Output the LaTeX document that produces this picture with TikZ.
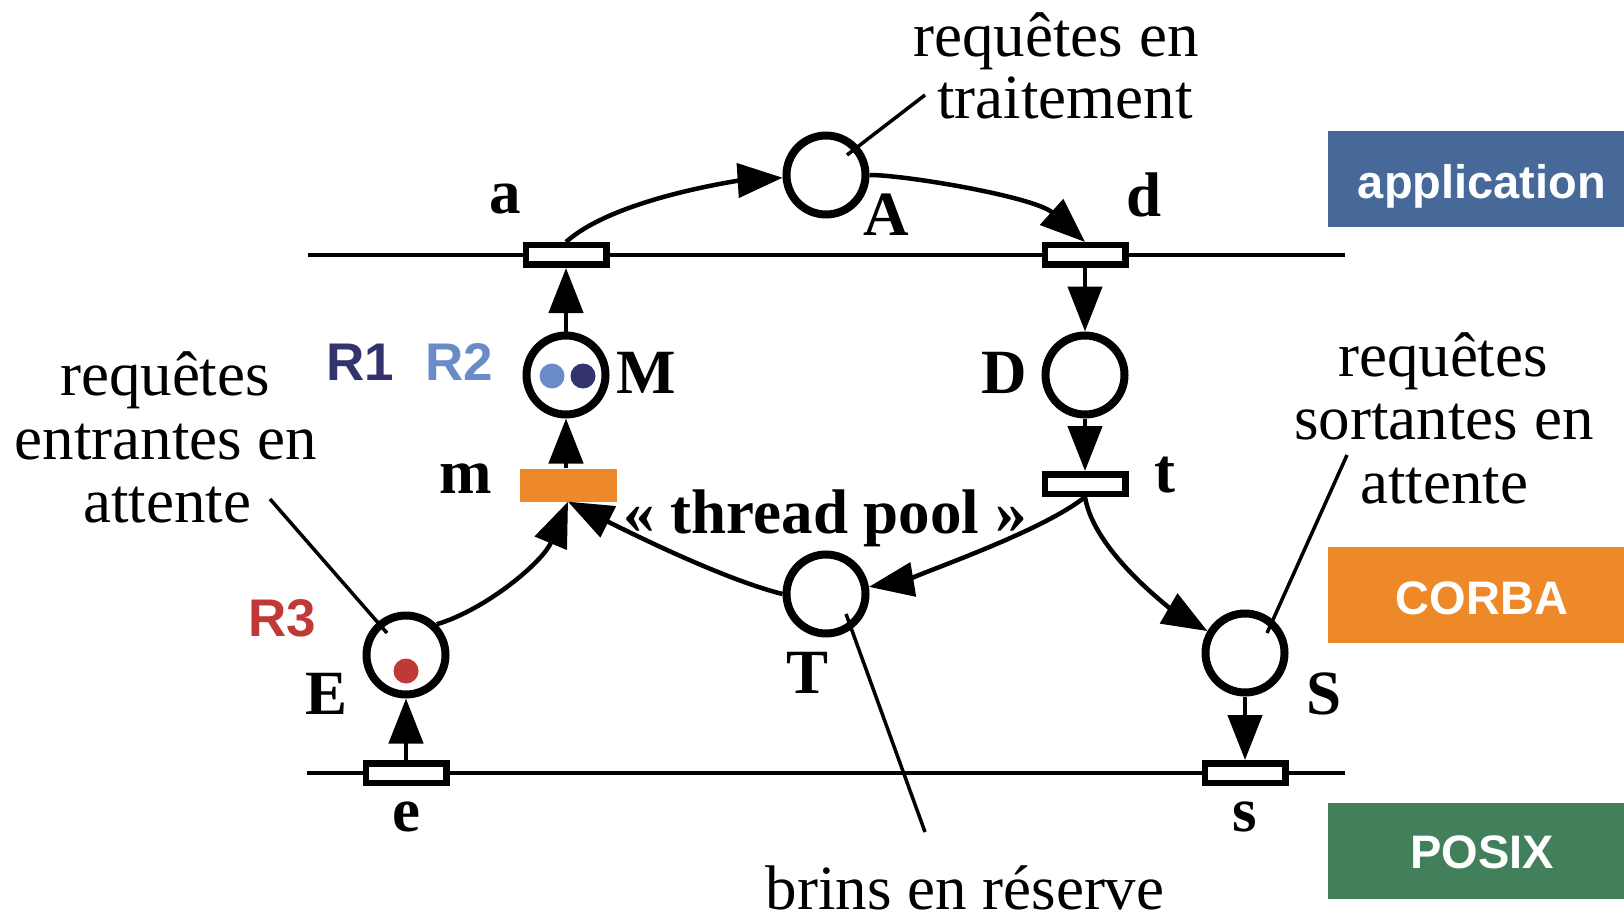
\documentclass[tikz,border=0pt]{standalone}
\usepackage{fontspec}
\setmainfont{Liberation Serif}
\newfontfamily\lsans{Liberation Sans}
\usetikzlibrary{arrows.meta}
\definecolor{appblue}{RGB}{71,105,154}
\definecolor{corbaor}{RGB}{237,137,40}
\definecolor{posixgr}{RGB}{66,128,92}
\definecolor{rone}{RGB}{51,51,110}
\definecolor{rtwo}{RGB}{105,140,200}
\definecolor{rthree}{RGB}{192,57,55}
\begin{document}
\begin{tikzpicture}[x=1pt,y=-1pt,
  place/.style={circle,draw,line width=8pt,minimum size=79pt,inner sep=0pt},
  trans/.style={rectangle,draw,fill=white,line width=6.5pt,minimum width=80.5pt,minimum height=19.5pt,inner sep=0pt},
  arc/.style={line width=4.5pt,-{Triangle[length=45pt,width=34pt]}},
  leader/.style={line width=3.5pt},
  axis/.style={line width=3.5pt},
  lbl/.style={font=\fontsize{63}{63}\selectfont\bfseries,inner sep=0pt},
  txt/.style={font=\fontsize{63}{63}\selectfont,inner sep=0pt,anchor=base},
  rlab/.style={font=\lsans\fontsize{53}{53}\selectfont\bfseries,inner sep=0pt},
  layer/.style={minimum width=308pt,minimum height=96pt,inner sep=0pt},
  layertxt/.style={inner sep=0pt,text=white,font=\lsans\fontsize{47}{47}\selectfont\bfseries},
  token/.style={circle,fill,minimum size=25pt,inner sep=0pt}]
\useasboundingbox (0,0) rectangle (1624,917);

% layer boxes
\node[layer,fill=appblue] (app) at (1482,179) {};
\node[layer,fill=corbaor] (corba) at (1482,595) {};
\node[layer,fill=posixgr] (posix) at (1482,851) {};
\node[layertxt] (apptxt) at (1482,186) {application};
\node[layertxt] (corbatxt) at (1482,598) {CORBA};
\node[layertxt] (posixtxt) at (1482,852) {POSIX};

% axes
\coordinate (tl) at (308,255); \coordinate (tr) at (1345,255);
\coordinate (bl) at (307,773); \coordinate (br) at (1345,773);
\draw[axis] (tl) -- (tr);
\draw[axis] (bl) -- (br);

% transitions
\node[trans] (a) at (566,255) {};
\node[trans] (d) at (1085,255) {};
\node[trans] (t) at (1085,484) {};
\node[trans] (e) at (406,773) {};
\node[trans] (s) at (1245,773) {};
\node[fill=corbaor,minimum width=97pt,minimum height=33pt,inner sep=0pt] (m) at (568,485) {};

% places
\node[place] (A) at (826,175) {};
\node[place] (M) at (566,375) {};
\node[place] (D) at (1085,375) {};
\node[place] (T) at (826,594) {};
\node[place] (E) at (406,655) {};
\node[place] (S) at (1245,653) {};

% tokens
\node[token,fill=rtwo] (tok2) at (552,376) {};
\node[token,fill=rone] (tok1) at (583,376) {};
\node[token,fill=rthree] (tok3) at (406,671) {};

% arcs
\draw[arc] (a.north) .. controls +(50,-45) and +(-80,5) .. (A);
\draw[arc] (A) .. controls +(80,0) and +(-50,-45) .. (d.north);
\draw[arc] (d) -- (D);
\draw[arc] (D) -- (t);
\draw[arc] (M) -- (a);
\draw[arc] (M.south |- m.north) -- (M);
\draw[arc] (e) -- (E);
\draw[arc] (S) -- (s);
\draw[arc] (t.south) .. controls +(-50,40) and +(60,-10) .. (T);
\draw[arc] (t.south) .. controls +(10,60) and +(-60,-35) .. (S);
\draw[arc] (E.45) .. controls +(50,-15) and +(-25,60) .. (m.south);
\draw[arc] (T.west) .. controls +(-60,-15) and +(60,30) .. (m.south);

% leaders
\coordinate (lA1) at (925,95); \coordinate (lA2) at (847,155);
\coordinate (lE1) at (270,499); \coordinate (lE2) at (387,633);
\coordinate (lS1) at (1347,455); \coordinate (lS2) at (1267,633);
\coordinate (lT1) at (846,614); \coordinate (lT2) at (925,832);
\draw[leader] (lA1) -- (lA2);
\draw[leader] (lE1) -- (lE2);
\draw[leader] (lS1) -- (lS2);
\draw[leader] (lT1) -- (lT2);

% letter labels
\node[lbl] (la) at (505,199) {a};
\node[lbl] (lA) at (886,215) {A};
\node[lbl] (ld) at (1144,195) {d};
\node[lbl] (lM) at (646,373) {M};
\node[lbl] (lD) at (1004,373) {D};
\node[lbl] (lm) at (466,479) {m};
\node[lbl] (lt) at (1165,475) {t};
\node[lbl] (lT) at (807,673) {T};
\node[lbl] (lEl) at (327,694) {E};
\node[lbl] (le) at (406,817) {e};
\node[lbl] (lS) at (1324,694) {S};
\node[lbl] (ls) at (1245,817) {s};
\node[rlab,text=rone] (r1) at (360,362) {R1};
\node[rlab,text=rtwo] (r2) at (459,362) {R2};
\node[rlab,text=rthree] (r3) at (282,618) {R3};

% texts
\node[txt] (tr1) at (1056,57) {requêtes en};
\node[txt] (tr2) at (1065,119) {traitement};
\node[txt] (en1) at (165,395) {requêtes};
\node[txt] (en2) at (166,459) {entrantes en};
\node[txt] (en3) at (167,522) {attente};
\node[txt] (so1) at (1443,376) {requêtes};
\node[txt] (so2) at (1444,439) {sortantes en};
\node[txt] (so3) at (1444,503) {attente};
\node[txt,font=\fontsize{63}{63}\selectfont\bfseries] (pool) at (825,533) {« thread pool »};
\node[txt] (brins) at (965,909) {brins en réserve};
\end{tikzpicture}
\end{document}
